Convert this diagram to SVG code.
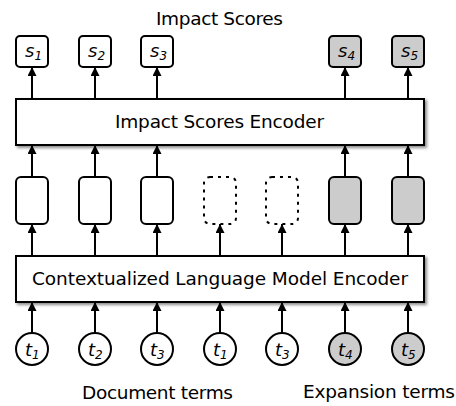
<svg xmlns="http://www.w3.org/2000/svg" width="456" height="406" viewBox="0 0 456 406">
<defs>
<marker id="ah" viewBox="0 0 10 10" refX="10" refY="5" markerWidth="5" markerHeight="4.5" orient="auto" markerUnits="strokeWidth">
<path d="M0,0 L10,5 L0,10 z" fill="#000"/>
</marker>
<filter id="sh" x="-5%" y="-20%" width="110%" height="150%">
<feDropShadow dx="2" dy="2" stdDeviation="1.5" flood-color="#000" flood-opacity="0.45"/>
</filter>
</defs>
<style>
text{font-family:"DejaVu Sans","Liberation Sans",sans-serif;fill:#000}
.lbl{font-size:18.5px}
.v{font-size:18px;font-style:italic}
.sub{font-size:12px;font-style:italic}
.box{fill:#fff;stroke:#000;stroke-width:2}
.g{fill:#cccccc}
.dot{fill:none;stroke:#000;stroke-width:2;stroke-dasharray:3 5}
.enc{fill:#fff;stroke:#000;stroke-width:2;filter:url(#sh)}
.conn line{stroke:#000;stroke-width:2;marker-end:url(#ah)}
</style>
<rect width="456" height="406" fill="#fff"/>
<text class="lbl" x="219.5" y="25" text-anchor="middle" textLength="127">Impact Scores</text>

<g id="enc-impact">
<rect class="enc" x="16" y="99" width="408" height="46"/>
<text class="lbl" x="219.5" y="128" text-anchor="middle" textLength="209">Impact Scores Encoder</text>
</g>
<g id="enc-lm">
<rect class="enc" x="16" y="256" width="408" height="46"/>
<text class="lbl" x="220" y="285" text-anchor="middle" textLength="376">Contextualized Language Model Encoder</text>
</g>

<g id="s1"><rect class="box" x="16" y="36" width="32" height="31" rx="4"/><text x="25" y="57"><tspan class="v">s</tspan><tspan class="sub" dy="3">1</tspan></text></g>
<g id="s2"><rect class="box" x="79" y="36" width="32" height="31" rx="4"/><text x="88" y="57"><tspan class="v">s</tspan><tspan class="sub" dy="3">2</tspan></text></g>
<g id="s3"><rect class="box" x="141" y="36" width="32" height="31" rx="4"/><text x="150" y="57"><tspan class="v">s</tspan><tspan class="sub" dy="3">3</tspan></text></g>
<g id="s4"><rect class="box g" x="329" y="36" width="32" height="31" rx="4"/><text x="338" y="57"><tspan class="v">s</tspan><tspan class="sub" dy="3">4</tspan></text></g>
<g id="s5"><rect class="box g" x="392" y="36" width="32" height="31" rx="4"/><text x="401" y="57"><tspan class="v">s</tspan><tspan class="sub" dy="3">5</tspan></text></g>

<g id="h1"><rect class="box" x="16" y="177" width="32" height="47" rx="5"/></g>
<g id="h2"><rect class="box" x="79" y="177" width="32" height="47" rx="5"/></g>
<g id="h3"><rect class="box" x="141" y="177" width="32" height="47" rx="5"/></g>
<g id="h4"><rect class="dot" x="204" y="177" width="32" height="47" rx="6"/></g>
<g id="h5"><rect class="dot" x="266" y="177" width="32" height="47" rx="6"/></g>
<g id="h6"><rect class="box g" x="329" y="177" width="32" height="47" rx="5"/></g>
<g id="h7"><rect class="box g" x="392" y="177" width="32" height="47" rx="5"/></g>

<g id="t1"><circle class="box" cx="32" cy="349" r="16"/><text x="25" y="356"><tspan class="v">t</tspan><tspan class="sub" dy="3">1</tspan></text></g>
<g id="t2"><circle class="box" cx="95" cy="349" r="16"/><text x="88" y="356"><tspan class="v">t</tspan><tspan class="sub" dy="3">2</tspan></text></g>
<g id="t3"><circle class="box" cx="157" cy="349" r="16"/><text x="150" y="356"><tspan class="v">t</tspan><tspan class="sub" dy="3">3</tspan></text></g>
<g id="t1b"><circle class="box" cx="220" cy="349" r="16"/><text x="213" y="356"><tspan class="v">t</tspan><tspan class="sub" dy="3">1</tspan></text></g>
<g id="t3b"><circle class="box" cx="282" cy="349" r="16"/><text x="275" y="356"><tspan class="v">t</tspan><tspan class="sub" dy="3">3</tspan></text></g>
<g id="t4"><circle class="box g" cx="345" cy="349" r="16"/><text x="338" y="356"><tspan class="v">t</tspan><tspan class="sub" dy="3">4</tspan></text></g>
<g id="t5"><circle class="box g" cx="408" cy="349" r="16"/><text x="401" y="356"><tspan class="v">t</tspan><tspan class="sub" dy="3">5</tspan></text></g>

<g class="conn" id="connectors">
<line x1="32" y1="99" x2="32" y2="67"/>
<line x1="95" y1="99" x2="95" y2="67"/>
<line x1="157" y1="99" x2="157" y2="67"/>
<line x1="345" y1="99" x2="345" y2="67"/>
<line x1="408" y1="99" x2="408" y2="67"/>
<line x1="32" y1="177" x2="32" y2="145"/>
<line x1="95" y1="177" x2="95" y2="145"/>
<line x1="157" y1="177" x2="157" y2="145"/>
<line x1="345" y1="177" x2="345" y2="145"/>
<line x1="408" y1="177" x2="408" y2="145"/>
<line x1="32" y1="256" x2="32" y2="224"/>
<line x1="95" y1="256" x2="95" y2="224"/>
<line x1="157" y1="256" x2="157" y2="224"/>
<line x1="220" y1="256" x2="220" y2="224"/>
<line x1="282" y1="256" x2="282" y2="224"/>
<line x1="345" y1="256" x2="345" y2="224"/>
<line x1="408" y1="256" x2="408" y2="224"/>
<line x1="32" y1="333" x2="32" y2="302"/>
<line x1="95" y1="333" x2="95" y2="302"/>
<line x1="157" y1="333" x2="157" y2="302"/>
<line x1="220" y1="333" x2="220" y2="302"/>
<line x1="282" y1="333" x2="282" y2="302"/>
<line x1="345" y1="333" x2="345" y2="302"/>
<line x1="408" y1="333" x2="408" y2="302"/>
</g>

<text class="lbl" x="157.5" y="399" text-anchor="middle" textLength="151">Document terms</text>
<text class="lbl" x="379" y="398" text-anchor="middle" textLength="152">Expansion terms</text>
</svg>
